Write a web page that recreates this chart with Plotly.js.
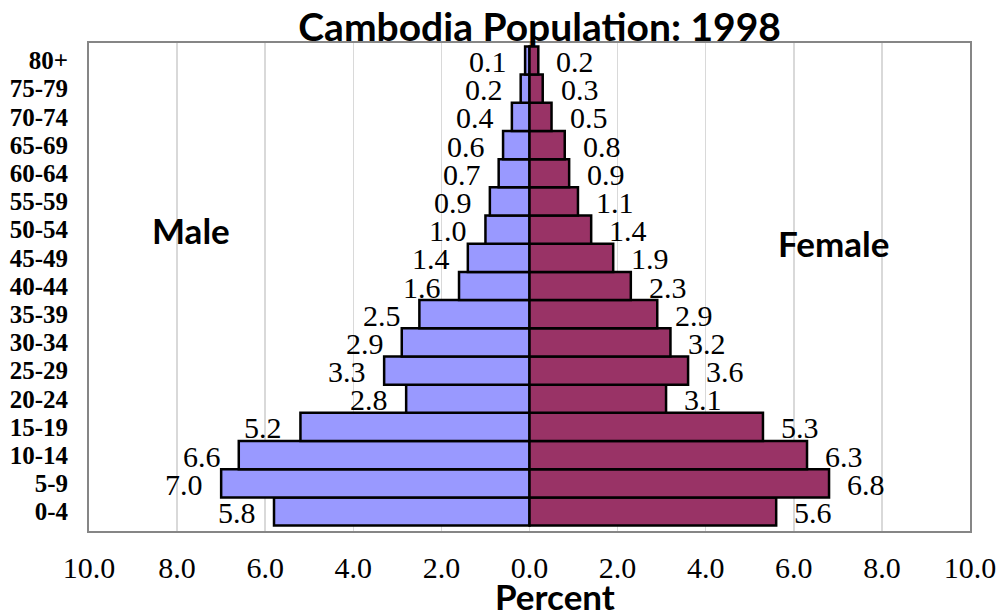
<!DOCTYPE html>
<html>
<head>
<meta charset="utf-8">
<script src="https://cdn.plot.ly/plotly-3.0.1.min.js"></script>
<style>html,body{margin:0;padding:0;background:#fff;}#chart{width:1003px;height:614px;}</style>
</head>
<body>
<div id="chart"></div>
<script>
const ageGroups = ["0-4","5-9","10-14","15-19","20-24","25-29","30-34","35-39","40-44","45-49","50-54","55-59","60-64","65-69","70-74","75-79","80+"];
const malePct   = [5.8, 7.0, 6.6, 5.2, 2.8, 3.3, 2.9, 2.5, 1.6, 1.4, 1.0, 0.9, 0.7, 0.6, 0.4, 0.2, 0.1];
const femalePct = [5.6, 6.8, 6.3, 5.3, 3.1, 3.6, 3.2, 2.9, 2.3, 1.9, 1.4, 1.1, 0.9, 0.8, 0.5, 0.3, 0.2];
const xTickVals = [-10,-8,-6,-4,-2,0,2,4,6,8,10];
const xTickText = ["10.0","8.0","6.0","4.0","2.0","0.0","2.0","4.0","6.0","8.0","10.0"];

const serif = "'Liberation Serif','Times New Roman',serif";
const sans = "Lato,'Open Sans',sans-serif";

const male = {
  type: 'bar', orientation: 'h', name: 'Male',
  y: ageGroups, x: malePct.map(v => -v),
  marker: {color: '#9999FF', line: {color: '#000', width: 2.5}},
  hoverinfo: 'skip'
};
const female = {
  type: 'bar', orientation: 'h', name: 'Female',
  y: ageGroups, x: femalePct,
  marker: {color: '#993366', line: {color: '#000', width: 2.5}},
  hoverinfo: 'skip'
};

const annotations = [];
ageGroups.forEach((g, i) => {
  annotations.push({x: -malePct[i], y: g, xref: 'x', yref: 'y', text: malePct[i].toFixed(1),
    showarrow: false, xanchor: 'right', yanchor: 'middle', xshift: -16, yshift: -1,
    font: {family: serif, size: 30, color: '#000'}});
  annotations.push({x: femalePct[i], y: g, xref: 'x', yref: 'y', text: femalePct[i].toFixed(1),
    showarrow: false, xanchor: 'left', yanchor: 'middle', xshift: 16, yshift: -1,
    font: {family: serif, size: 30, color: '#000'}});
});
annotations.push({xref: 'paper', yref: 'paper', x: 0.1158, y: 0.617, text: '<b>Male</b>', showarrow: false,
  xanchor: 'center', yanchor: 'middle', font: {family: sans, size: 35, color: '#000'}});
annotations.push({xref: 'paper', yref: 'paper', x: 0.8456, y: 0.59, text: '<b>Female</b>', showarrow: false,
  xanchor: 'center', yanchor: 'middle', font: {family: sans, size: 35, color: '#000'}});
annotations.push({xref: 'paper', yref: 'paper', x: 0.529, y: -0.134, text: '<b>Percent</b>', showarrow: false,
  xanchor: 'center', yanchor: 'middle', font: {family: sans, size: 35, color: '#000'}});

const layout = {
  width: 1003, height: 614,
  margin: {l: 89, r: 33, t: 43, b: 83, pad: 0},
  paper_bgcolor: '#fff', plot_bgcolor: '#fff',
  barmode: 'relative', bargap: 0,
  showlegend: false,
  title: {text: '<b>Cambodia Population: 1998</b>', x: 0.538, xanchor: 'center', xref: 'container',
    y: 0.955, yanchor: 'middle', yref: 'container', font: {family: sans, size: 39, color: '#000'}},
  xaxis: {range: [-10, 10], tickmode: 'array', tickvals: xTickVals, ticktext: xTickText,
    showgrid: true, gridcolor: '#d9d9d9', gridwidth: 1.5, zeroline: false,
    showline: true, linecolor: '#868686', linewidth: 2, mirror: true,
    ticks: 'outside', ticklen: 9, tickcolor: 'rgba(0,0,0,0)',
    tickfont: {family: serif, size: 30, color: '#000'}, fixedrange: true},
  yaxis: {type: 'category', categoryorder: 'array', categoryarray: ageGroups,
    tickmode: 'array', tickvals: ageGroups, ticktext: ageGroups,
    showgrid: false, zeroline: false,
    showline: true, linecolor: '#868686', linewidth: 2, mirror: true,
    ticks: 'outside', ticklen: 14, tickcolor: 'rgba(0,0,0,0)',
    tickfont: {family: serif, size: 25, color: '#000', weight: 'bold'}, fixedrange: true},
  annotations: annotations
};

Plotly.newPlot('chart', [male, female], layout, {displayModeBar: false, staticPlot: true});
</script>
</body>
</html>
